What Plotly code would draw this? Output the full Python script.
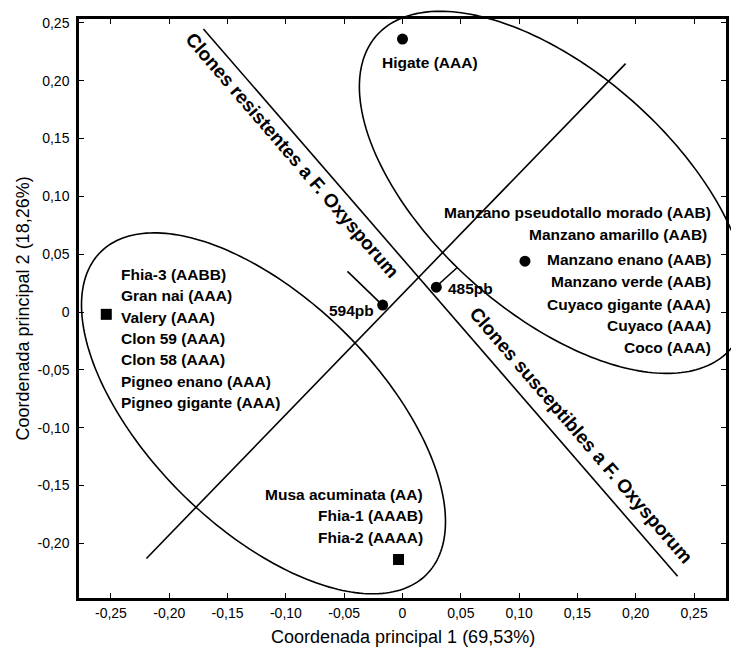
import numpy as np
import plotly.graph_objects as go

# ---------------- data ----------------
x_tick_vals = [-0.25, -0.20, -0.15, -0.10, -0.05, 0.0, 0.05, 0.10, 0.15, 0.20, 0.25]
x_tick_text = ["-0,25", "-0,20", "-0,15", "-0,10", "-0,05", "0", "0,05", "0,10", "0,15", "0,20", "0,25"]
y_tick_vals = [-0.20, -0.15, -0.10, -0.05, 0.0, 0.05, 0.10, 0.15, 0.20, 0.25]
y_tick_text = ["-0,20", "-0,15", "-0,10", "-0,05", "0", "0,05", "0,10", "0,15", "0,20", "0,25"]

# circle points (Higate, Manzano group, marker 485pb, marker 594pb)
circle_names = ["Higate (AAA)", "Grupo Manzano", "485pb", "594pb"]
circle_x = [0.000, 0.105, 0.029, -0.017]
circle_y = [0.236, 0.044, 0.0215, 0.006]

# square points (Valery group, Fhia-2 group)
square_names = ["Grupo Valery", "Grupo Fhia-2"]
square_x = [-0.254, -0.0034]
square_y = [-0.002, -0.214]

# group labels
left_labels = ["Fhia-3 (AABB)", "Gran nai (AAA)", "Valery (AAA)", "Clon 59 (AAA)",
               "Clon 58 (AAA)", "Pigneo enano (AAA)", "Pigneo gigante (AAA)"]
left_label_y = [0.0326, 0.0146, -0.0043, -0.0232, -0.0412, -0.0601, -0.0782]
right_labels = ["Manzano pseudotallo morado (AAB)", "Manzano amarillo (AAB)", "Manzano enano (AAB)",
                "Manzano verde (AAB)", "Cuyaco gigante (AAA)", "Cuyaco (AAA)", "Coco (AAA)"]
right_label_y = [0.0859, 0.0670, 0.0455, 0.0266, 0.0069, -0.0120, -0.0309]
bottom_labels = ["Musa acuminata (AA)", "Fhia-1 (AAAB)", "Fhia-2 (AAAA)"]
bottom_label_y = [-0.1581, -0.1761, -0.1950]

# guide lines (data coordinates)
sep_x = [-0.1707, 0.2359]
sep_y = [0.2448, -0.2285]
diag_x = [-0.2196, 0.1913]
diag_y = [-0.2131, 0.2148]
seg594_x = [-0.0472, -0.0172]
seg594_y = [0.0352, 0.0060]
seg485_x = [0.0292, 0.0472]
seg485_y = [0.0223, 0.0387]

# ellipses: centre, semi-axes, angle (deg)
ell_upper = (0.1295, 0.1035, 0.2035, 0.1040, -42.0)
ell_lower = (-0.1192, -0.0876, 0.1974, 0.0987, -45.0)

# ---------------- figure ----------------
X_RANGE = [-0.2774, 0.2774]
Y_RANGE = [-0.2473, 0.2534]
FONT = "Liberation Sans, Arial, Helvetica, sans-serif"

fig = go.Figure()

line_style = dict(color="black", width=1.6)
for lx, ly in [(sep_x, sep_y), (diag_x, diag_y), (seg594_x, seg594_y), (seg485_x, seg485_y)]:
    fig.add_trace(go.Scatter(x=lx, y=ly, mode="lines", line=line_style,
                             hoverinfo="skip", showlegend=False))

fig.add_trace(go.Scatter(x=circle_x, y=circle_y, mode="markers", text=circle_names,
                         marker=dict(symbol="circle", size=11, color="black"),
                         showlegend=False, cliponaxis=False))
fig.add_trace(go.Scatter(x=square_x, y=square_y, mode="markers", text=square_names,
                         marker=dict(symbol="square", size=11, color="black"),
                         showlegend=False, cliponaxis=False))


def ellipse_path(cx, cy, a, b, ang):
    t = np.linspace(0, 2 * np.pi, 240)
    phi = np.deg2rad(ang)
    ex = cx + a * np.cos(t) * np.cos(phi) - b * np.sin(t) * np.sin(phi)
    ey = cy + a * np.cos(t) * np.sin(phi) + b * np.sin(t) * np.cos(phi)
    px = (ex - X_RANGE[0]) / (X_RANGE[1] - X_RANGE[0])
    py = (ey - Y_RANGE[0]) / (Y_RANGE[1] - Y_RANGE[0])
    pts = [f"{u:.5f},{v:.5f}" for u, v in zip(px, py)]
    return "M" + " L".join(pts) + " Z"


for e in (ell_upper, ell_lower):
    fig.add_shape(type="path", path=ellipse_path(*e), xref="paper", yref="paper",
                  line=dict(color="black", width=1.6), layer="above")

lab_font = dict(family=FONT, size=15.5, color="black", weight="bold")
for txt, yy in zip(left_labels, left_label_y):
    fig.add_annotation(x=-0.2427, y=yy, text=txt, showarrow=False, xanchor="left",
                       yanchor="middle", font=lab_font)
for i, (txt, yy) in enumerate(zip(right_labels, right_label_y)):
    xx = 0.2625 if i == 1 else 0.2659
    fig.add_annotation(x=xx, y=yy, text=txt, showarrow=False, xanchor="right",
                       yanchor="middle", font=lab_font)
for txt, yy in zip(bottom_labels, bottom_label_y):
    fig.add_annotation(x=0.0189, y=yy, text=txt, showarrow=False, xanchor="right",
                       yanchor="middle", font=lab_font)
fig.add_annotation(x=0.0236, y=0.2160, text="Higate (AAA)", showarrow=False,
                   xanchor="center", yanchor="middle", font=lab_font)
fig.add_annotation(x=-0.0223, y=0.0009, text="594pb", showarrow=False,
                   xanchor="right", yanchor="middle", font=lab_font)
fig.add_annotation(x=0.0377, y=0.0206, text="485pb", showarrow=False,
                   xanchor="left", yanchor="middle", font=lab_font)

rot_font = dict(family=FONT, size=19, color="black", weight="bold")
fig.add_annotation(x=-0.0945, y=0.135, text="Clones resistentes a F. Oxysporum",
                   textangle=49.3, showarrow=False, font=rot_font)
fig.add_annotation(x=0.1535, y=-0.1065, text="Clones susceptibles a F. Oxysporum",
                   textangle=49.3, showarrow=False, font=rot_font)

# axis titles
title_font = dict(family=FONT, size=18, color="black")
fig.add_annotation(x=0.5, y=0, xref="paper", yref="paper", text="Coordenada principal 1 (69,53%)",
                   showarrow=False, xanchor="center", yanchor="middle", yshift=-39, font=title_font)
fig.add_annotation(x=0, y=0.5, xref="paper", yref="paper", text="Coordenada principal 2 (18,26%)",
                   showarrow=False, xanchor="center", yanchor="middle", xshift=-57,
                   textangle=-90, font=title_font)

axis_common = dict(showgrid=False, zeroline=False, showline=True, linecolor="black",
                   linewidth=2.5, mirror="ticks", ticks="inside", ticklen=5,
                   tickwidth=1.2, tickcolor="black",
                   tickfont=dict(family=FONT, size=14, color="black"))
fig.update_xaxes(range=X_RANGE, tickmode="array", tickvals=x_tick_vals,
                 ticktext=x_tick_text, **axis_common)
fig.update_yaxes(range=Y_RANGE, tickmode="array", tickvals=y_tick_vals,
                 ticktext=y_tick_text, ticklabelstandoff=4, **axis_common)

# the page body adds an 8px margin, so the figure is sized/positioned to compensate
fig.update_layout(width=731, height=640, margin=dict(l=71, r=13, t=7, b=50),
                  plot_bgcolor="white", paper_bgcolor="white", showlegend=False,
                  font=dict(family=FONT))

fig.write_html("out.html")
